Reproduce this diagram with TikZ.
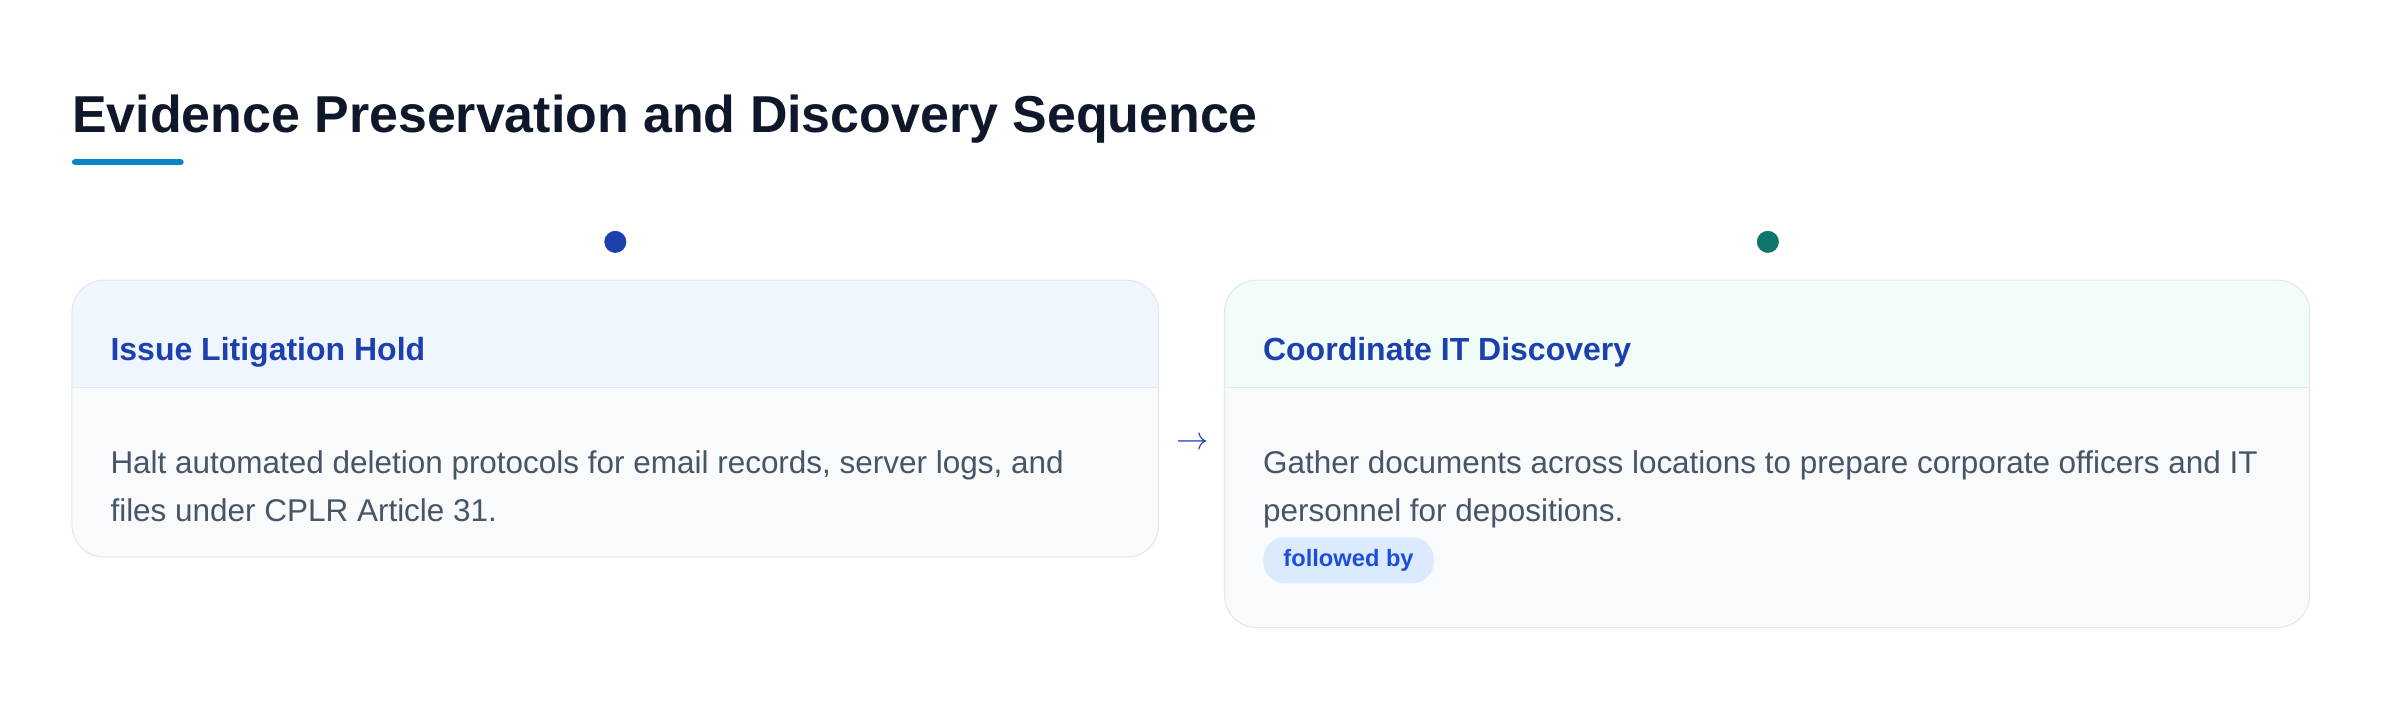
\documentclass[tikz,border=0pt]{standalone}
\usepackage{fontspec}
\setmainfont{Liberation Sans}
\usetikzlibrary{positioning}
\definecolor{ink}{HTML}{0F172A}
\definecolor{accent}{HTML}{0A84C4}
\definecolor{hdblue}{HTML}{1E40AF}
\definecolor{teal}{HTML}{0F766E}
\definecolor{edge}{HTML}{E2E8F0}
\definecolor{bodyfill}{HTML}{F8FAFC}
\definecolor{bodytext}{HTML}{475569}
\definecolor{headA}{HTML}{EFF6FF}
\definecolor{headB}{HTML}{F0FDF9}
\definecolor{badgefill}{HTML}{DBEAFE}
\definecolor{badgetext}{HTML}{1D4ED8}
\tikzset{
  cardtitle/.style={anchor=west, text=hdblue, font=\bfseries\fontsize{11.9}{14}\selectfont},
  cardbody/.style={anchor=north west, text=bodytext, align=left, font=\fontsize{11.7}{18}\selectfont},
  dot/.style={circle, minimum size=9.5pt, inner sep=0, draw=white, line width=1.2pt}
}
\begin{document}
\begin{tikzpicture}[x=0.02cm, y=-0.02cm]
    \useasboundingbox (0, 0) rectangle (1568, 458);

    \node[anchor=west, text=ink, font=\bfseries\fontsize{19.3}{22}\selectfont] (title) at (41, 78) {Evidence Preservation and Discovery Sequence};
    \draw[accent, line width=2.3pt, line cap=round] (49, 106)--(118, 106);

    % first card
    \fill[bodyfill, rounded corners=12] (47, 183) rectangle (757, 364);
    \begin{scope}
      \clip[rounded corners=12] (47, 183) rectangle (757, 364);
      \fill[headA] (47, 183) rectangle (757, 253);
    \end{scope}
    \draw[edge] (47, 253)--(757, 253);
    \draw[edge, rounded corners=12] (47, 183) rectangle (757, 364);
    \node[cardtitle] (holdtitle) at (66, 230) {Issue Litigation Hold};
    \node[cardbody] (holdbody) at (66, 288) {Halt automated deletion protocols for email records, server logs, and\\files under CPLR Article 31.};
    \node[dot, fill=hdblue] (holddot) at (402, 158) {};

    % second card
    \fill[bodyfill, rounded corners=12] (800, 183) rectangle (1509, 410);
    \begin{scope}
      \clip[rounded corners=12] (800, 183) rectangle (1509, 410);
      \fill[headB] (800, 183) rectangle (1509, 253);
    \end{scope}
    \draw[edge] (800, 253)--(1509, 253);
    \draw[edge, rounded corners=12] (800, 183) rectangle (1509, 410);
    \node[cardtitle] (ittitle) at (819, 230) {Coordinate IT Discovery};
    \node[cardbody] (itbody) at (819, 288) {Gather documents across locations to prepare corporate officers and IT\\personnel for depositions.};
    \node[dot, fill=teal] (itdot) at (1155, 158) {};
    \node[anchor=west, fill=badgefill, text=badgetext, rounded corners=8, minimum height=30*0.02cm, inner xsep=7.5pt,
          font=\bfseries\fontsize{8.8}{10}\selectfont] (badge) at (825, 366) {followed by};

    \node[text=hdblue, font=\fontsize{13}{14}\selectfont] (step) at (779, 290) {$\rightarrow$};
  \end{tikzpicture}
\end{document}
